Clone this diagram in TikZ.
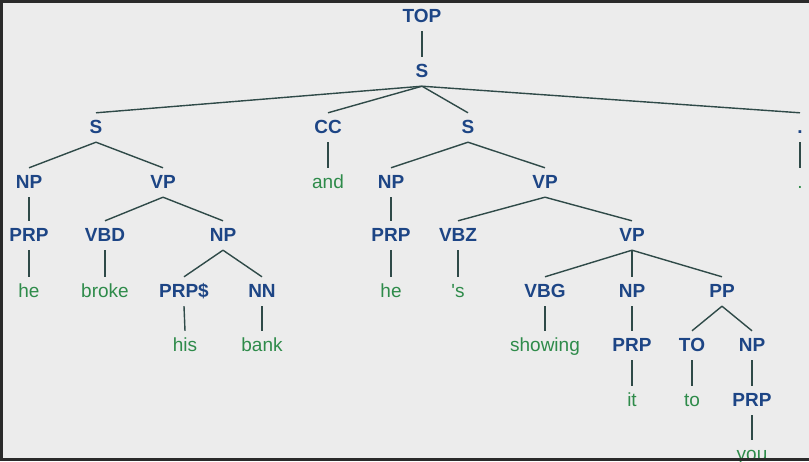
\documentclass[tikz,border=0pt]{standalone}
\usepackage{fontspec}
\setmainfont{Liberation Sans}
\definecolor{bgc}{HTML}{ECECEC}
\definecolor{labc}{HTML}{1D4585}
\definecolor{wrdc}{HTML}{2E8B4A}
\definecolor{edgec}{HTML}{2F4A48}
\definecolor{framec}{HTML}{2A2A2A}
\begin{document}
\begin{tikzpicture}[x=1pt,y=-1pt,
  basenode/.style={anchor=base, text height=14pt, text depth=3pt, inner xsep=1pt, inner ysep=6pt},
  tag/.style={basenode, text=labc, font=\fontsize{19}{19}\selectfont\bfseries},
  word/.style={basenode, text=wrdc, font=\fontsize{19}{19}\selectfont},
  br/.style={draw=edgec, line width=1.4pt}]
\useasboundingbox (0,0) rectangle (809,461);
\fill[bgc] (0,0) rectangle (809,461);
% levels (baselines)
\def\LA{22}\def\LB{77}\def\LC{133}\def\LD{188}\def\LE{241}\def\LF{297}\def\LG{351}\def\LH{406}\def\LI{460}
\node[tag] (top) at (422,\LA) {TOP};
\node[tag] (s0) at (422,\LB) {S};
\node[tag] (s1) at (96,\LC) {S};
\node[tag] (cc) at (328,\LC) {CC};
\node[tag] (s2) at (468,\LC) {S};
\node[tag] (pt) at (800,\LC) {.};
\node[tag] (np1) at (29,\LD) {NP};
\node[tag] (vp1) at (163,\LD) {VP};
\node[word] (and) at (328,\LD) {and};
\node[tag] (np2) at (391,\LD) {NP};
\node[tag] (vp2) at (545,\LD) {VP};
\node[word] (pw) at (800,\LD) {.};
\node[tag] (prp1) at (29,\LE) {PRP};
\node[tag] (vbd) at (105,\LE) {VBD};
\node[tag] (np3) at (223,\LE) {NP};
\node[tag] (prp2) at (391,\LE) {PRP};
\node[tag] (vbz) at (458,\LE) {VBZ};
\node[tag] (vp3) at (632,\LE) {VP};
\node[word] (he1) at (29,\LF) {he};
\node[word] (broke) at (105,\LF) {broke};
\node[tag] (prps) at (184,\LF) {PRP\$};
\node[tag] (nn) at (262,\LF) {NN};
\node[word] (he2) at (391,\LF) {he};
\node[word] (apos) at (458,\LF) {\addfontfeatures{Ligatures=TeXOff}'s};
\node[tag] (vbg) at (545,\LF) {VBG};
\node[tag] (np4) at (632,\LF) {NP};
\node[tag] (pp) at (722,\LF) {PP};
\node[word] (his) at (185,\LG) {his};
\node[word] (bank) at (262,\LG) {bank};
\node[word] (showing) at (545,\LG) {showing};
\node[tag] (prp3) at (632,\LG) {PRP};
\node[tag] (to) at (692,\LG) {TO};
\node[tag] (np5) at (752,\LG) {NP};
\node[word] (it) at (632,\LH) {it};
\node[word] (tow) at (692,\LH) {to};
\node[tag] (prp4) at (752,\LH) {PRP};
\node[word] (you) at (752,\LI) {you};
% edges
\foreach \p/\c in {top/s0, s0/s1, s0/cc, s0/s2, s0/pt, s1/np1, s1/vp1, cc/and, s2/np2, s2/vp2, pt/pw,
  np1/prp1, vp1/vbd, vp1/np3, np2/prp2, vp2/vbz, vp2/vp3,
  prp1/he1, vbd/broke, np3/prps, np3/nn, prp2/he2, vbz/apos, vp3/vbg, vp3/np4, vp3/pp,
  prps/his, nn/bank, vbg/showing, np4/prp3, pp/to, pp/np5,
  prp3/it, to/tow, np5/prp4, prp4/you}
  \draw[br] (\p.south) -- (\c.north);
% frame
\fill[framec] (0,0) rectangle (809,3);
\fill[framec] (0,0) rectangle (3,461);
\fill[framec] (0,458) rectangle (809,461);
\end{tikzpicture}
\end{document}
